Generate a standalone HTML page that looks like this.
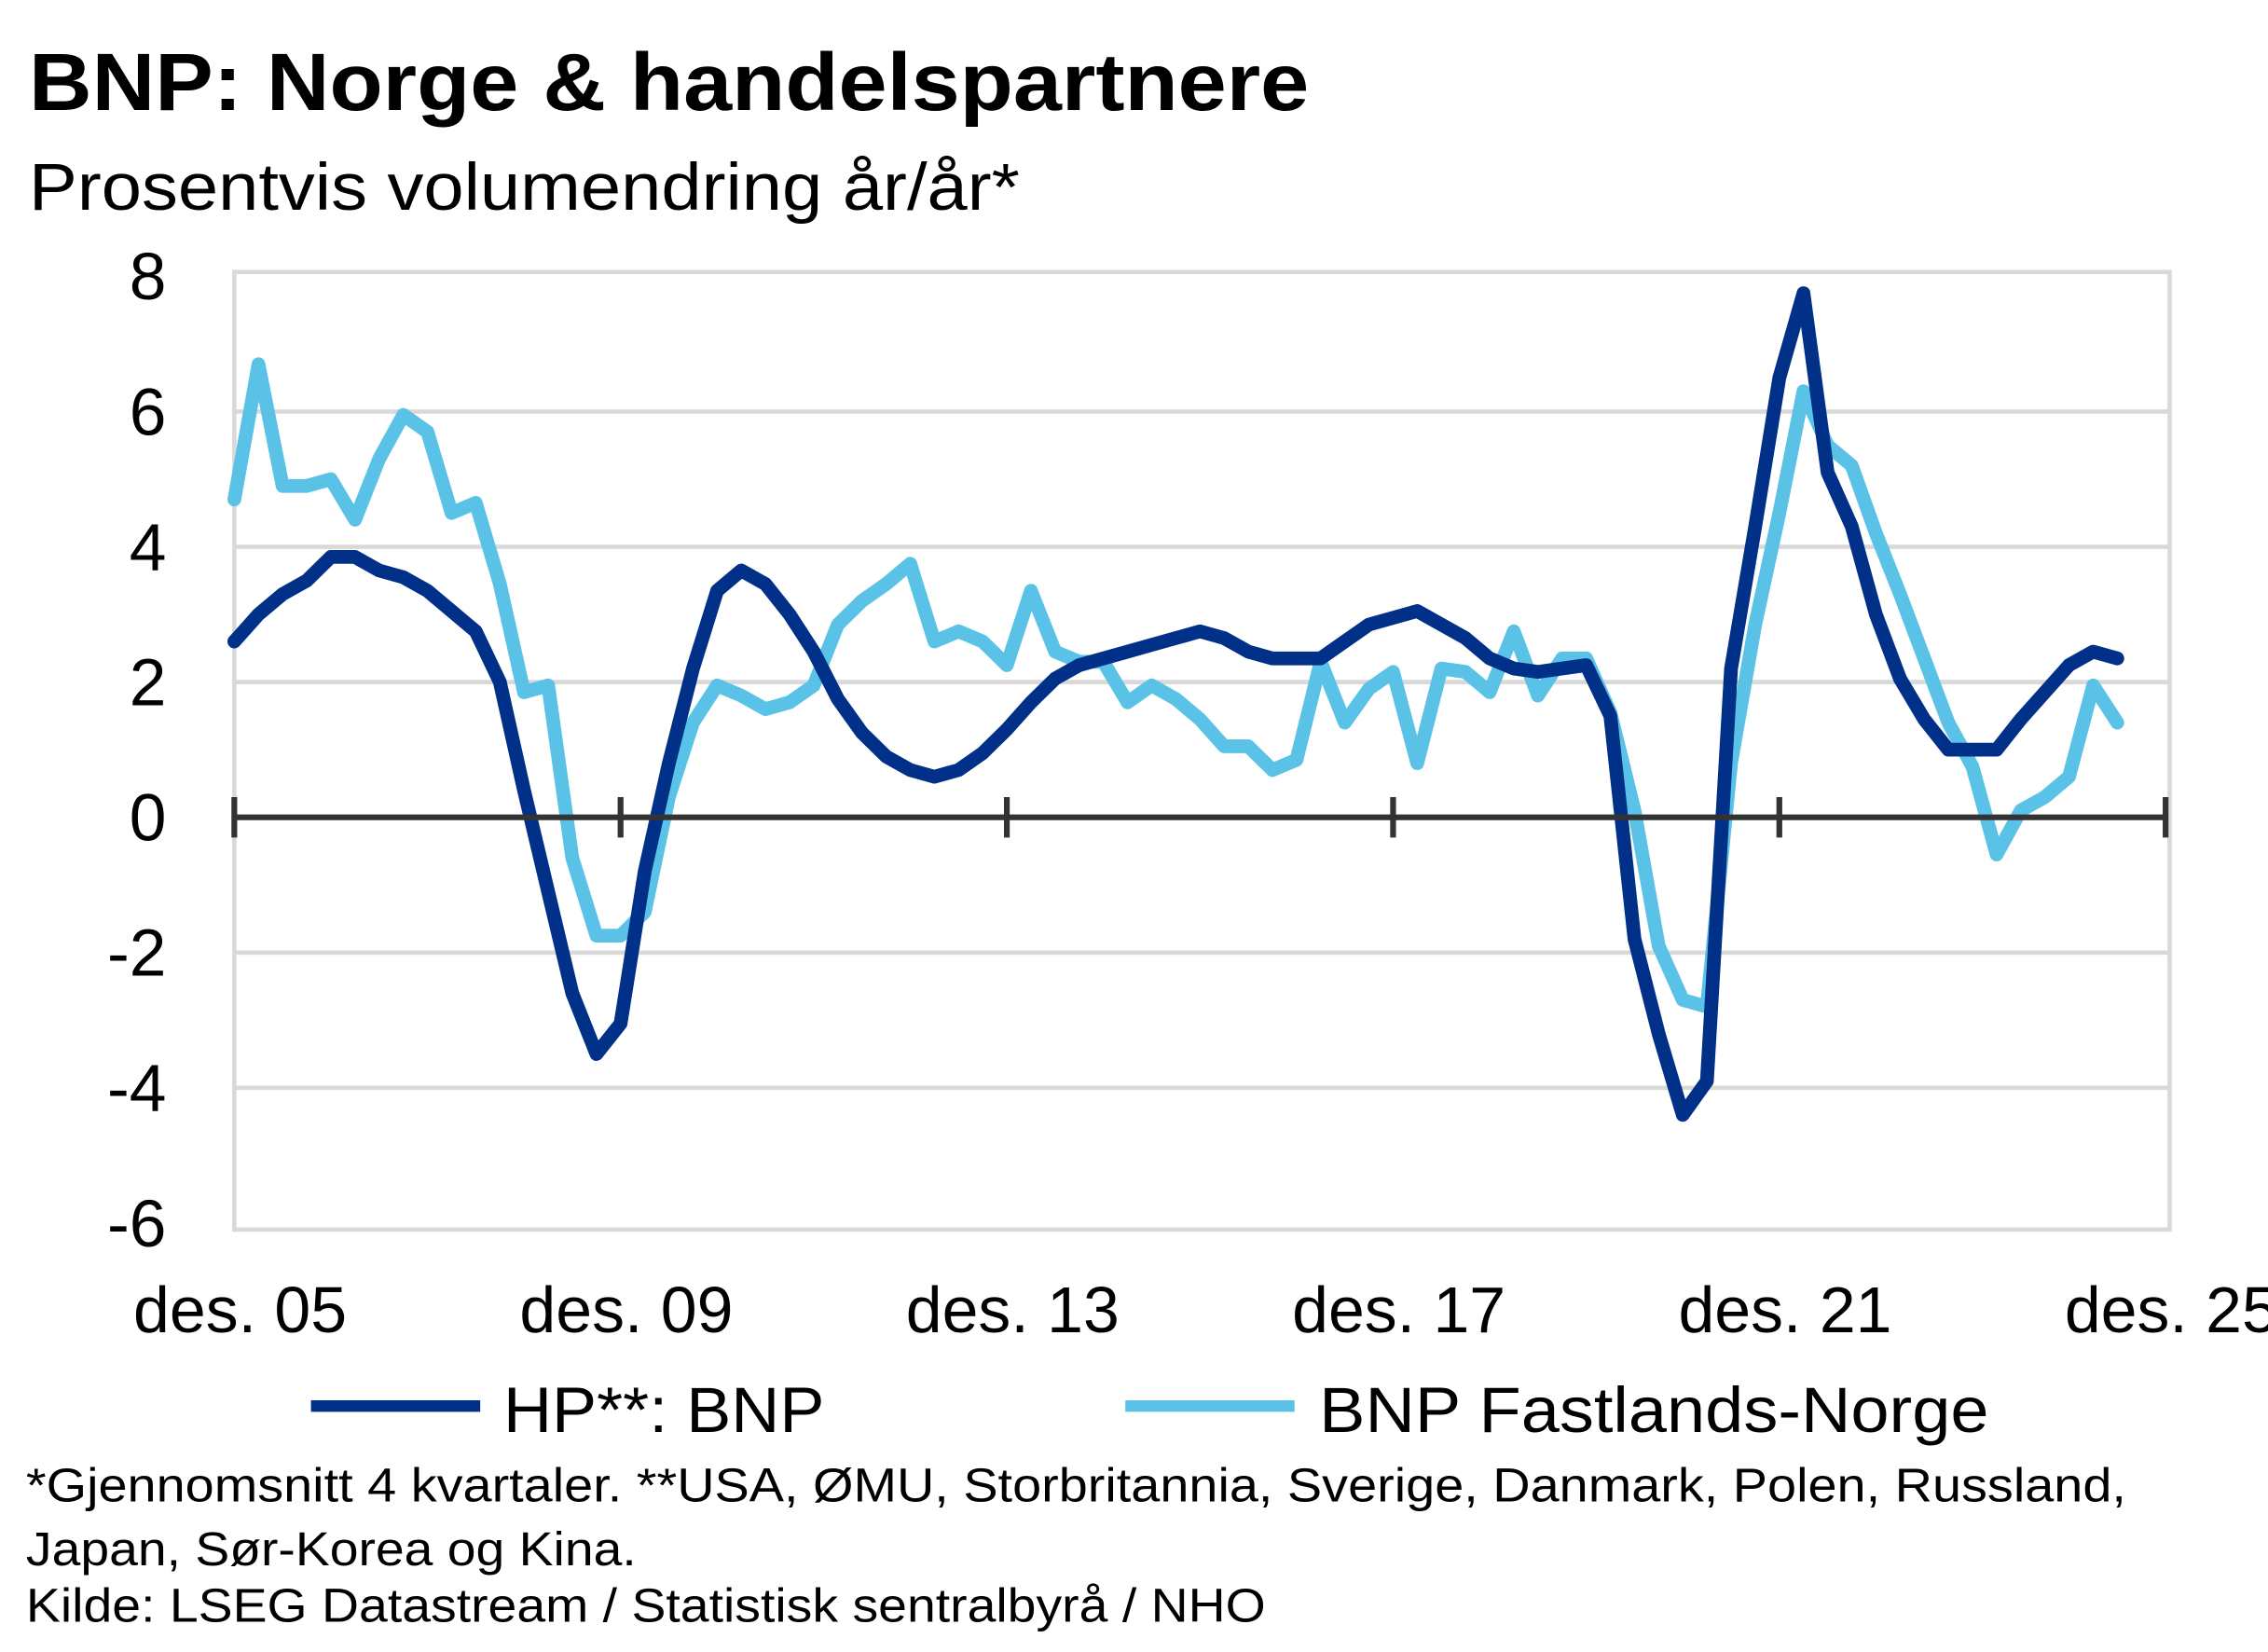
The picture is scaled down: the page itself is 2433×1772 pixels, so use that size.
<!DOCTYPE html>
<html><head><meta charset="utf-8"><style>
html,body{margin:0;padding:0;background:#fff;}
svg{display:block;font-family:"Liberation Sans",sans-serif;}
</style></head><body>
<svg id="chart" width="2433" height="1772" viewBox="0 0 1568 1142" xmlns="http://www.w3.org/2000/svg">
<text x="20" y="76" font-size="56" font-weight="bold" fill="#000" textLength="885" lengthAdjust="spacingAndGlyphs">BNP:  Norge  &amp; handelspartnere</text>
<text x="20" y="145" font-size="46" fill="#000" textLength="685" lengthAdjust="spacingAndGlyphs">Prosentvis volumendring år/år*</text>
<rect x="162" y="188" width="1338" height="662" fill="none" stroke="#d9d9d9" stroke-width="3"/>
<g id="grid"></g><g id="series"></g><g id="axes"></g>
<g>
<line x1="215" y1="972" x2="332" y2="972" stroke="#003087" stroke-width="8"/>
<text x="348" y="990" font-size="44" textLength="222" lengthAdjust="spacingAndGlyphs">HP**: BNP</text>
<line x1="778" y1="972" x2="895" y2="972" stroke="#5bc2e7" stroke-width="8"/>
<text x="912" y="990" font-size="44" textLength="463" lengthAdjust="spacingAndGlyphs">BNP Fastlands-Norge</text>
</g>
<text x="18" y="1038" font-size="33" textLength="1452" lengthAdjust="spacingAndGlyphs">*Gjennomsnitt 4 kvartaler. **USA, ØMU, Storbritannia, Sverige, Danmark, Polen, Russland,</text>
<text x="18" y="1082" font-size="33" textLength="422" lengthAdjust="spacingAndGlyphs">Japan, Sør-Korea og Kina.</text>
<text x="18" y="1121" font-size="33" textLength="857" lengthAdjust="spacingAndGlyphs">Kilde: LSEG Datastream / Statistisk sentralbyrå / NHO</text>
</svg>
<script>
const yTicks = [8,6,4,2,0,-2,-4,-6];
const xTickLabels = ["des. 05","des. 09","des. 13","des. 17","des. 21","des. 25"];
const hpBnp = [2.6,3.0,3.3,3.5,3.85,3.85,3.65,3.55,3.35,3.05,2.75,2.0,0.4,-1.1,-2.6,-3.5,-3.05,-0.8,0.8,2.2,3.35,3.65,3.45,3.0,2.45,1.75,1.25,0.9,0.7,0.6,0.7,0.95,1.3,1.7,2.05,2.25,2.35,2.45,2.55,2.65,2.75,2.65,2.45,2.35,2.35,2.35,2.6,2.85,2.95,3.05,2.85,2.65,2.35,2.2,2.15,2.2,2.25,1.5,-1.8,-3.2,-4.4,-3.9,2.2,4.3,6.5,7.75,5.1,4.3,3.0,2.05,1.45,1.0,1.0,1.0,1.45,1.85,2.25,2.45,2.35];
const fastland = [4.7,6.7,4.9,4.9,5.0,4.4,5.3,5.95,5.7,4.5,4.65,3.45,1.85,1.95,-0.6,-1.75,-1.75,-1.4,0.3,1.4,1.95,1.8,1.6,1.7,1.95,2.85,3.2,3.45,3.75,2.6,2.75,2.6,2.25,3.35,2.45,2.3,2.3,1.7,1.95,1.75,1.45,1.05,1.05,0.7,0.85,2.3,1.4,1.9,2.15,0.8,2.2,2.15,1.85,2.75,1.8,2.35,2.35,1.55,0.1,-1.9,-2.7,-2.8,0.8,2.85,4.5,6.3,5.5,5.2,4.2,3.3,2.35,1.4,0.75,-0.55,0.1,0.3,0.6,1.95,1.4];

const NS="http://www.w3.org/2000/svg";
const X0=162, DX=16.69, Y0=565, PY=46.75;
const xs=i=>X0+i*DX, ys=v=>Y0-v*PY;
function mk(tag,attrs,parent){const e=document.createElementNS(NS,tag);for(const k in attrs)e.setAttribute(k,attrs[k]);parent.appendChild(e);return e;}
const grid=document.getElementById('grid'), axes=document.getElementById('axes'), ser=document.getElementById('series');
yTicks.forEach(v=>{
  if(v!==0 && v!==8 && v!==-6){const g=mk('line',{x1:162,x2:1500,y1:ys(v),y2:ys(v),stroke:'#d9d9d9','stroke-width':3},grid);
  
  }
  const t=mk('text',{x:115,y:ys(v)+16,'font-size':46,'text-anchor':'end'},axes);
  t.textContent=v;
  
  
});
const ax=mk('line',{x1:162,x2:1497,y1:Y0,y2:Y0,stroke:'#333','stroke-width':4},axes);


xTickLabels.forEach((l,k)=>{
  const x=xs(k*16);
  const tk=mk('line',{x1:x,x2:x,y1:Y0-14,y2:Y0+14,stroke:'#333','stroke-width':4},axes);
  
  
  const t=mk('text',{x:x+4,y:921,'font-size':45,'text-anchor':'middle'},axes);
  t.textContent=l;
  
  
});
function line(data,color,name){
  const p=mk('polyline',{points:data.map((v,i)=>xs(i)+','+ys(v)).join(' '),fill:'none',stroke:color,'stroke-width':9.5,'stroke-linejoin':'round','stroke-linecap':'round'},ser);
  
  
}
line(fastland,'#5bc2e7','line-bnp-fastlands-norge');
line(hpBnp,'#003087','line-hp-bnp');
</script>
</body></html>
